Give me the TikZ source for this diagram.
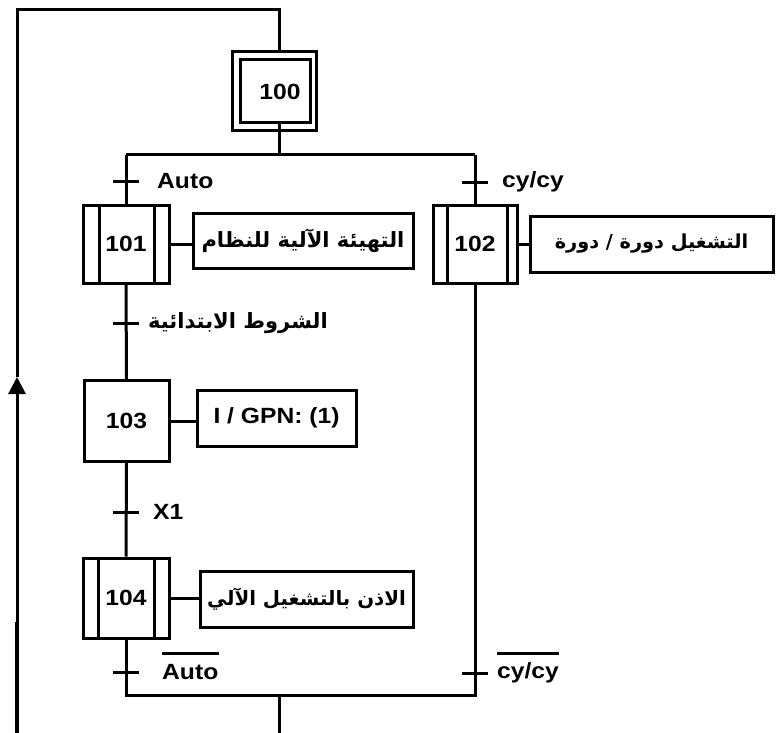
\documentclass[tikz,border=0pt]{standalone}
\usepackage{fontspec}
\usepackage{graphicx}
\setmainfont{Liberation Sans}
\newfontfamily\arabicfont[Script=Arabic]{DejaVu Sans}
\TeXXeTstate=1
\usetikzlibrary{arrows.meta}
\newcommand\wtxt[1]{\scalebox{1.12}[1]{#1}}
\tikzset{
  ln/.style={line width=3pt},
  stepbox/.style={draw, line width=3pt, inner sep=0pt, font=\bfseries\fontsize{22}{24}\selectfont},
  actbox/.style={draw, line width=3pt, inner sep=0pt, font=\bfseries\fontsize{22}{24}\selectfont},
  trtick/.style={line width=3pt},
  cond/.style={anchor=west, inner sep=0pt, font=\bfseries\fontsize{22}{24}\selectfont},
  arab/.style={font=\arabicfont\bfseries\fontsize{#1}{24}\selectfont},
  arab/.default=21
}
\begin{document}
\begin{tikzpicture}[x=1pt,y=-1pt]
\useasboundingbox (0,0) rectangle (779,733);
% coordinates
\coordinate (tl) at (17,10);
\coordinate (tr) at (279,10);
\coordinate (bl) at (17,733);
\coordinate (arr) at (17,377);
\coordinate (thick) at (17,622);
\coordinate (dm) at (279,155);
\coordinate (dL) at (126,155);
\coordinate (dR) at (475,155);
\coordinate (cL) at (126,695);
\coordinate (cR) at (475,695);
\coordinate (cm) at (279,695);
\coordinate (bb) at (279,733);
\coordinate (t0) at (126,181);
\coordinate (t1) at (475,182);
\coordinate (t2) at (126,323);
\coordinate (t3) at (126,512);
\coordinate (t4) at (126,672);
\coordinate (t5) at (475,673);
% step 100 (initial)
\node[draw, ln, minimum width=84pt, minimum height=79pt] (s100o) at (274,91.5) {};
\node[stepbox, minimum width=70pt, minimum height=63pt] (s100) at (275,91.5) {\hspace{10pt}\wtxt{100}};
% steps
\node[stepbox, minimum width=86pt, minimum height=78pt] (s101) at (126,244) {\wtxt{101}};
\node[stepbox, minimum width=84pt, minimum height=78pt] (s102) at (475,244) {\wtxt{102}};
\node[stepbox, minimum width=85pt, minimum height=81pt] (s103) at (126.5,421) {\wtxt{103}};
\node[stepbox, minimum width=86pt, minimum height=80pt] (s104) at (126,598) {\wtxt{104}};
% macro-step inner lines
\draw[ln] ([xshift=18pt]s101.north west) -- ([xshift=18pt]s101.south west);
\draw[ln] ([xshift=-16pt]s101.north east) -- ([xshift=-16pt]s101.south east);
\draw[ln] ([xshift=16pt]s102.north west) -- ([xshift=16pt]s102.south west);
\draw[ln] ([xshift=-11pt]s102.north east) -- ([xshift=-11pt]s102.south east);
\draw[ln] ([xshift=17pt]s104.north west) -- ([xshift=17pt]s104.south west);
\draw[ln] ([xshift=-16pt]s104.north east) -- ([xshift=-16pt]s104.south east);
% actions
\node[actbox, arab, minimum width=220pt, minimum height=55pt] (a101) at (303,240.5) {\beginR التهيئة الآلية للنظام\endR};
\node[actbox, arab=19.3, minimum width=243pt, minimum height=56pt] (a102) at (651.5,244) {\beginR التشغيل دورة / دورة\endR};
\node[actbox, minimum width=159pt, minimum height=56pt] (a103) at (276.5,418) {\wtxt{I / GPN: (1)}};
\node[actbox, arab=19.8, minimum width=213pt, minimum height=56pt] (a104) at (306.5,599) {\beginR الاذن بالتشغيل الآلي\endR};
\draw[ln] (s101.east) -- (s101.east -| a101.west);
\draw[ln] (s102.east) -- (s102.east -| a102.west);
\draw[ln] (s103.east) -- (s103.east -| a103.west);
\draw[ln] (s104.east) -- (s104.east -| a104.west);
% loop back
\draw[ln, -{Triangle[length=17pt,width=17pt]}] (bl) -- (arr);
\draw[line width=3.8pt] (bl) -- (thick);
\draw[ln] (arr) -- (tl) -- (tr) -- (tr |- s100o.north);
% divergence
\draw[ln] (dm |- s100.south) -- (dm);
\draw[ln] (dL) -- (dR);
\draw[ln] (dL) -- (s101.north);
\draw[ln] (dR) -- (s102.north);
% sequence
\draw[ln] (s101.south) -- (s103.north);
\draw[ln] (s103.south) -- (s104.north);
\draw[ln] (s104.south) -- (cL) -- (cR) -- (s102.south);
\draw[ln] (cm) -- (bb);
% transitions
\foreach \t in {t0,t1,t2,t3,t4,t5}{
  \draw[trtick] ([xshift=-13pt]\t) -- ([xshift=13pt]\t);
}
\node[cond] (l0) at ([xshift=31pt]t0) {\wtxt{Auto}};
\node[cond] (l1) at ([xshift=27pt]t1) {\wtxt{cy/cy}};
\node[cond, arab, anchor=west] (l2) at ([xshift=22pt]t2) {\beginR الشروط الابتدائية\endR};
\node[cond] (l3) at ([xshift=27pt]t3) {\wtxt{X1}};
\node[cond] (l4) at ([xshift=36pt]t4) {\wtxt{Auto}};
\node[cond] (l5) at ([xshift=22pt]t5) {\wtxt{cy/cy}};
\draw[ln] ([yshift=11pt]l4.north west) -- ([yshift=11pt]l4.north east);
\draw[ln] ([yshift=9pt]l5.north west) -- ([yshift=9pt]l5.north east);
\end{tikzpicture}
\end{document}
